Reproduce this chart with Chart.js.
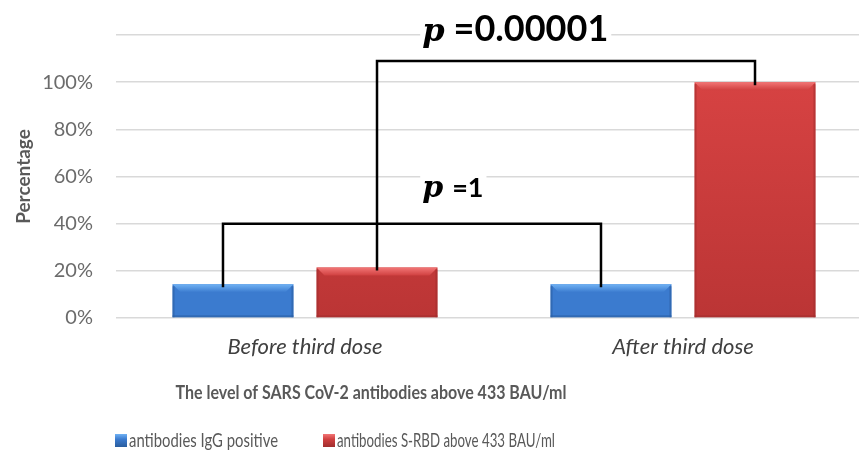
<!DOCTYPE html>
<html>
<head>
<meta charset="utf-8">
<script src="https://cdn.jsdelivr.net/npm/chart.js@4"></script>
<style>
  html, body { margin: 0; padding: 0; background: #ffffff; overflow: hidden; }
  #wrap { width: 859px; height: 462px; overflow: hidden; }
  canvas { display: block; }
</style>
</head>
<body>
<div id="wrap"><canvas id="grafico" width="880" height="462"></canvas></div>
<script>
// data
const categories = ['Before third dose', 'After third dose'];
const iggPositive = [14.3, 14.3];
const srbdAbove = [21.4, 100];
const seriesNames = ['antibodies IgG positive', 'antibodies S-RBD above 433 BAU/ml'];
const yTicks = [0, 20, 40, 60, 80, 100, 120];
const pValues = ['0.00001', '1'];
const bracketSeries = [1, 0];     // which series each bracket joins
const bracketLevels = [109, 40];  // height of the bracket bar, in %
const pTextLevels = [117.5, 51.5];

const FONT = "Lato, 'Open Sans', sans-serif";
const blue = { body: '#3b7bcf', light: '#70b2f4', dark: '#2a5d9e' };
const red = { body: '#d04040', light: '#f27676', dark: '#a02e2e' };

function redFill(context) {
  const chart = context.chart;
  const area = chart.chartArea;
  if (!area) return red.body;
  const g = chart.ctx.createLinearGradient(0, area.top, 0, area.bottom);
  g.addColorStop(0, '#dc4545');
  g.addColorStop(1, '#bb3535');
  return g;
}

function drawBevel(ctx, el, c) {
  const l = el.x - el.width / 2, r = el.x + el.width / 2;
  const t = el.y, b = el.base;
  const s = Math.min(8, (b - t) / 3);
  ctx.save();
  const g = ctx.createLinearGradient(0, t, 0, t + s);
  g.addColorStop(0, c.light);
  g.addColorStop(1, c.body);
  ctx.fillStyle = g;
  ctx.beginPath();
  ctx.moveTo(l, t); ctx.lineTo(r, t); ctx.lineTo(r - s, t + s); ctx.lineTo(l + s, t + s);
  ctx.closePath();
  ctx.fill();
  ctx.globalAlpha = 0.55;
  ctx.fillStyle = c.dark;
  ctx.fillRect(l, t + 2, 2, b - t - 2);
  ctx.fillRect(r - 2, t + 2, 2, b - t - 2);
  ctx.fillRect(l, b - 2, r - l, 2);
  ctx.restore();
}

// text that looks a bit taller than wide, as in the original figure
function tallText(ctx, text, x, y, stretch, maxW) {
  ctx.save();
  ctx.translate(x, y);
  ctx.scale(1, stretch);
  if (maxW) ctx.fillText(text, 0, 0, maxW);
  else ctx.fillText(text, 0, 0);
  ctx.restore();
}

const decorations = {
  id: 'decorations',
  afterDatasetsDraw(chart) {
    const ctx = chart.ctx;
    const x = chart.scales.x, y = chart.scales.y;
    chart.getDatasetMeta(0).data.forEach(el => drawBevel(ctx, el, blue));
    chart.getDatasetMeta(1).data.forEach(el => drawBevel(ctx, el, red));

    // significance brackets
    const shift = [0, -10];
    ctx.save();
    ctx.strokeStyle = '#000000';
    ctx.lineWidth = 2.5;
    bracketSeries.forEach((ds, i) => {
      const bars = chart.getDatasetMeta(ds).data;
      const top = y.getPixelForValue(bracketLevels[i]);
      ctx.beginPath();
      ctx.moveTo(bars[0].x + shift[i], bars[0].y + 3);
      ctx.lineTo(bars[0].x + shift[i], top);
      ctx.lineTo(bars[1].x + shift[i], top);
      ctx.lineTo(bars[1].x + shift[i], bars[1].y + 3);
      ctx.stroke();
    });
    ctx.restore();

    // p values
    const x0 = x.getPixelForValue(0), x1 = x.getPixelForValue(1);
    const tx = x0 + (x1 - x0) * 0.31;
    const sizes = [[32, 36], [30, 27]];
    pValues.forEach((p, i) => {
      const base = y.getPixelForValue(pTextLevels[i]);
      ctx.save();
      ctx.textBaseline = 'alphabetic';
      ctx.font = 'italic bold ' + sizes[i][0] + "px 'DejaVu Serif', serif";
      const pw = ctx.measureText('p').width;
      ctx.font = 'bold ' + sizes[i][1] + 'px ' + FONT;
      const vw = ctx.measureText('=' + p).width;
      ctx.fillStyle = '#ffffff';
      ctx.fillRect(tx - 2, base - sizes[i][1] * 0.85, pw + 10 + vw + 4, sizes[i][1] * 1.1);
      ctx.fillStyle = '#000000';
      ctx.font = 'italic bold ' + sizes[i][0] + "px 'DejaVu Serif', serif";
      ctx.fillText('p', tx, base);
      ctx.font = 'bold ' + sizes[i][1] + 'px ' + FONT;
      ctx.fillText('=' + p, tx + pw + 9, base);
      ctx.restore();
    });
  },
  afterDraw(chart) {
    const ctx = chart.ctx;
    ctx.save();
    // x axis title
    ctx.fillStyle = '#595959';
    ctx.font = 'bold 16px ' + FONT;
    ctx.textAlign = 'center';
    ctx.textBaseline = 'middle';
    tallText(ctx, 'The level of SARS CoV-2 antibodies above 433 BAU/ml', 371, 393, 1.15);

    // legend
    ctx.textAlign = 'left';
    ctx.font = '15px ' + FONT;
    const widths = [149, 218];
    let lx = 115;
    const ly = 441;
    [blue, red].forEach((c, i) => {
      const g = ctx.createLinearGradient(0, ly - 7, 0, ly + 6);
      g.addColorStop(0, c.light);
      g.addColorStop(0.4, c.body);
      g.addColorStop(1, c.dark);
      ctx.fillStyle = g;
      ctx.fillRect(lx, ly - 7, 12, 13);
      ctx.fillStyle = '#595959';
      const w = Math.min(widths[i], ctx.measureText(seriesNames[i]).width);
      tallText(ctx, seriesNames[i], lx + 14, ly, 1.3, w);
      lx += 14 + w + 45;
    });
    ctx.restore();
  }
};

const chart = new Chart(document.getElementById('grafico'), {
  type: 'bar',
  data: {
    labels: categories,
    datasets: [
      {
        label: seriesNames[0],
        data: iggPositive,
        backgroundColor: blue.body,
        categoryPercentage: 0.762,
        barPercentage: 0.84
      },
      {
        label: seriesNames[1],
        data: srbdAbove,
        backgroundColor: redFill,
        categoryPercentage: 0.762,
        barPercentage: 0.84
      }
    ]
  },
  options: {
    responsive: false,
    animation: false,
    events: [],
    layout: { padding: { left: 0, top: 34, right: 8, bottom: 0 } },
    plugins: {
      legend: { display: false },
      tooltip: { enabled: false }
    },
    scales: {
      x: {
        grid: { display: false },
        border: { display: false },
        ticks: {
          padding: 8,
          color: '#404040',
          font: { family: FONT, size: 22, style: 'italic' }
        },
        afterFit(scale) { scale.height = 144; }
      },
      y: {
        min: 0,
        max: 120,
        afterBuildTicks(scale) { scale.ticks = yTicks.map(v => ({ value: v })); },
        grid: { color: '#d9d9d9', lineWidth: 1.5, drawTicks: false },
        border: { display: false },
        ticks: {
          padding: 23,
          color: '#6b6b6b',
          font: { family: FONT, size: 20 },
          callback: v => (v === 120 ? '' : v + '%')
        },
        title: {
          display: true,
          text: 'Percentage',
          color: '#595959',
          font: { family: FONT, size: 19, weight: 'bold' },
          padding: { top: 12, bottom: 0 }
        },
        afterFit(scale) { scale.width = 116; }
      }
    }
  },
  plugins: [decorations]
});
</script>
</body>
</html>
